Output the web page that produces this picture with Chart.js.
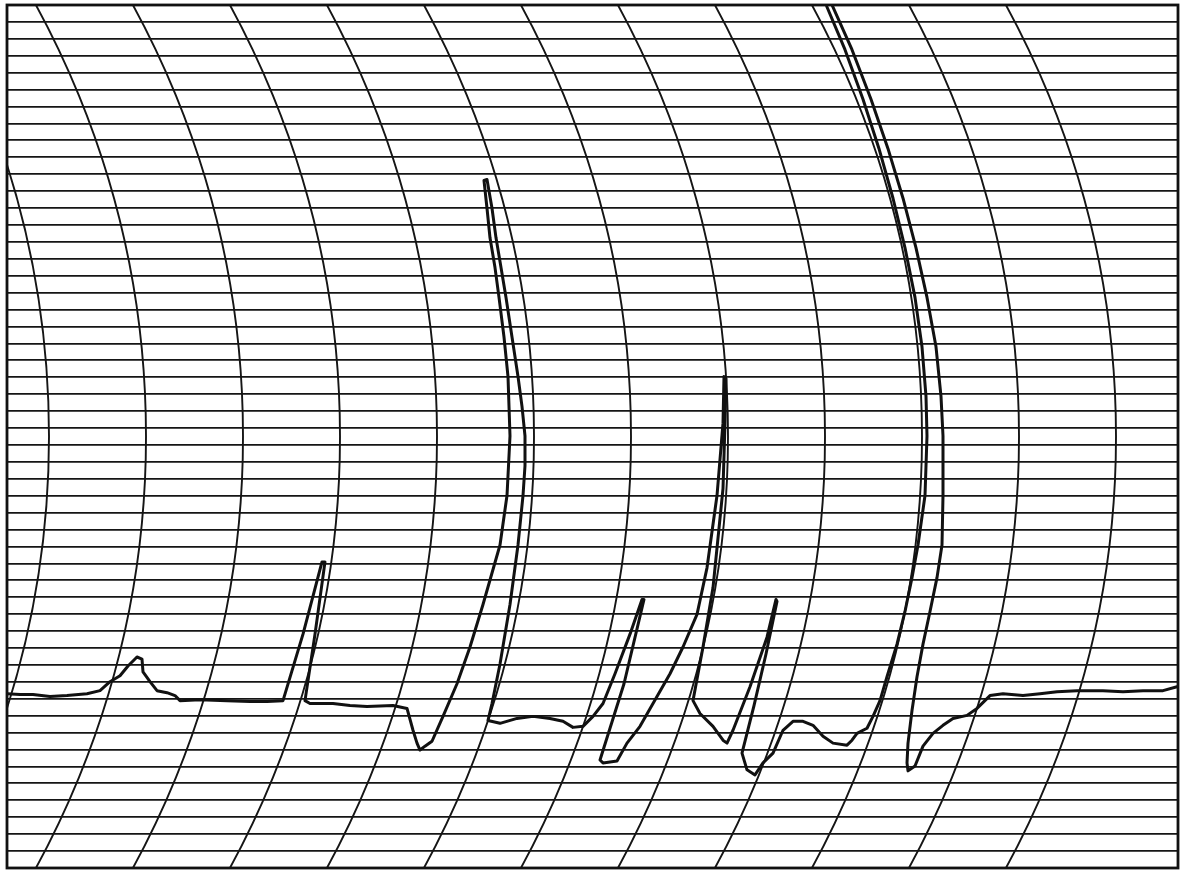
<!DOCTYPE html>
<html>
<head>
<meta charset="utf-8">
<title>Strip chart recording</title>
<script src="https://cdn.jsdelivr.net/npm/chart.js@4.4.1/dist/chart.umd.min.js"></script>
<style>
  html, body { margin: 0; padding: 0; background: #ffffff; }
  #wrap { width: 1188px; height: 878px; position: relative; }
</style>
</head>
<body>
<div id="wrap"><canvas id="recording"></canvas></div>
<script>
// pen trace: time along the strip, pen level in chart divisions
const penTime = [
  // baseline, small bump, first spike
  0, 13, 26, 43, 60, 80, 93, 103, 113, 121, 130, 135, 136, 143, 150, 160, 168, 173, 193, 220,
  243, 260, 276, 296, 315, 318, 308, 298, 303, 326, 343, 360, 386, 400, 406, 410, 413, 418, 425, 436,
  // tall spike
  450, 463, 476, 493, 500, 503, 501, 497, 492, 488, 483, 480, 477,
  480, 485, 489, 494, 499, 505, 511, 515, 518, 518, 516, 511, 503, 493, 485, 481,
  // baseline, three spikes
  493, 510, 526, 543, 556, 566, 576, 586, 596, 608, 623, 635, 637, 617, 593, 596, 610, 620, 633,
  650, 663, 676, 690, 700, 710, 716, 717, 719, 718, 716, 706, 696, 686, 693, 706, 716, 720, 726, 743,
  760, 769, 770, 759, 747, 735, 740, 748, 756, 766, 776, 786, 796, 806, 816, 826, 840, 845, 850, 860,
  // off-scale double stroke
  866, 873, 880, 890, 898, 905, 911, 918, 920, 919, 915, 908, 898, 886, 872, 856, 838, 820, 811,
  826, 845, 864, 881, 896, 909, 920, 929, 934, 936, 936, 935,
  // recovery and final baseline
  930, 923, 916, 910, 905, 901, 900, 901, 908, 916, 926, 936, 946, 960, 970, 983,
  996, 1016, 1033, 1050, 1070, 1096, 1116, 1136, 1156, 1170
];
const penLevel = [
  10.30, 10.25, 10.25, 10.13, 10.19, 10.30, 10.48, 11.01, 11.36, 11.94, 12.47, 12.35, 11.59, 11.01, 10.48, 10.36, 10.19, 9.89, 9.95, 9.89,
  9.84, 9.84, 9.89, 13.82, 18.09, 18.09, 13.82, 9.89, 9.72, 9.72, 9.60, 9.54, 9.60, 9.43, 8.14, 7.38, 6.97, 7.20, 7.49, 8.96,
  10.89, 13.06, 15.57, 19.09, 22.01, 25.53, 29.04, 31.38, 33.72, 35.48, 37.24, 38.99, 40.63,
  40.69, 38.99, 37.24, 35.48, 33.72, 31.38, 29.04, 27.28, 25.53, 23.77, 22.01, 19.09, 15.57, 12.06, 9.72, 8.72,
  8.55, 8.84, 8.96, 8.84, 8.67, 8.31, 8.37, 8.96, 9.72, 11.48, 13.82, 15.87, 15.87, 10.89, 6.38, 6.21, 6.32, 7.38, 8.37,
  10.13, 11.48, 13.06, 14.99, 17.74, 22.01, 26.29, 29.04, 28.92, 26.29, 22.42, 16.57, 13.06, 9.89, 9.13, 8.37, 7.55, 7.38, 8.14, 10.71,
  13.64, 15.87, 15.75, 12.65, 9.60, 6.79, 5.80, 5.50, 6.21, 6.79, 8.14, 8.67, 8.67, 8.43, 7.79, 7.38, 7.26, 7.55, 7.96, 8.26,
  8.96, 9.89, 11.30, 13.23, 15.16, 17.16, 19.09, 22.01, 25.53, 27.87, 30.80, 33.72, 36.65, 39.58, 42.51, 45.43, 48.36, 50.88, 52.75,
  50.88, 48.36, 45.43, 42.51, 39.58, 36.65, 33.72, 30.80, 27.87, 25.53, 22.01, 19.09,
  17.16, 15.16, 13.23, 11.30, 9.31, 7.38, 6.21, 5.74, 6.03, 7.20, 7.96, 8.43, 8.84, 9.02, 9.43, 10.19,
  10.30, 10.19, 10.30, 10.42, 10.48, 10.48, 10.42, 10.48, 10.48, 10.71
];

// paper ruling
const timeMin = 0;
const timeMax = 1171;
const levelMin = 0;
const levelMax = 51;
const arcVertexTimes = [42, 139, 236, 333, 430, 527, 624, 721, 818, 915, 1012, 1109];
const arcRadius = 900;     // pen arm length, in time units
const pivotLevel = 25.5;   // level of the pen arm pivot

const trace = penTime.map((t, i) => ({ x: t, y: penLevel[i] }));

const arcGrid = {
  id: 'arcGrid',
  beforeDatasetsDraw(chart) {
    const { ctx, chartArea: a, scales: { x, y } } = chart;
    const cy = y.getPixelForValue(pivotLevel);
    const r = x.getPixelForValue(arcRadius) - x.getPixelForValue(0);
    ctx.save();
    ctx.beginPath();
    ctx.rect(a.left, a.top, a.right - a.left, a.bottom - a.top);
    ctx.clip();
    ctx.strokeStyle = '#151515';
    ctx.lineWidth = 1.9;
    arcVertexTimes.forEach(function (t) {
      const cx = x.getPixelForValue(t) - r;
      ctx.beginPath();
      ctx.arc(cx, cy, r, -0.75, 0.75);
      ctx.stroke();
    });
    ctx.restore();
  }
};

const frame = {
  id: 'frame',
  afterDraw(chart) {
    const { ctx, chartArea: a } = chart;
    ctx.save();
    ctx.strokeStyle = '#111111';
    ctx.lineWidth = 2.8;
    ctx.strokeRect(a.left, a.top, a.right - a.left, a.bottom - a.top);
    ctx.restore();
  }
};

new Chart(document.getElementById('recording'), {
  type: 'line',
  data: {
    datasets: [{
      label: 'Pen trace',
      data: trace,
      borderColor: '#111111',
      borderWidth: 3,
      pointRadius: 0,
      tension: 0,
      borderJoinStyle: 'round',
      borderCapStyle: 'round',
      clip: 0
    }]
  },
  plugins: [arcGrid, frame],
  options: {
    responsive: true,
    maintainAspectRatio: false,
    animation: false,
    layout: {
      padding: { left: 7, right: 10, top: 5, bottom: 2 }
    },
    plugins: {
      legend: { display: false },
      tooltip: { enabled: false }
    },
    scales: {
      x: {
        type: 'linear',
        min: timeMin,
        max: timeMax,
        grid: { display: false },
        border: { display: false },
        ticks: { display: false }
      },
      y: {
        min: levelMin,
        max: levelMax,
        grid: { color: '#151515', lineWidth: 1.8, drawTicks: false },
        border: { display: false },
        ticks: { display: false, stepSize: 1, padding: 0 }
      }
    }
  }
});
</script>
</body>
</html>
